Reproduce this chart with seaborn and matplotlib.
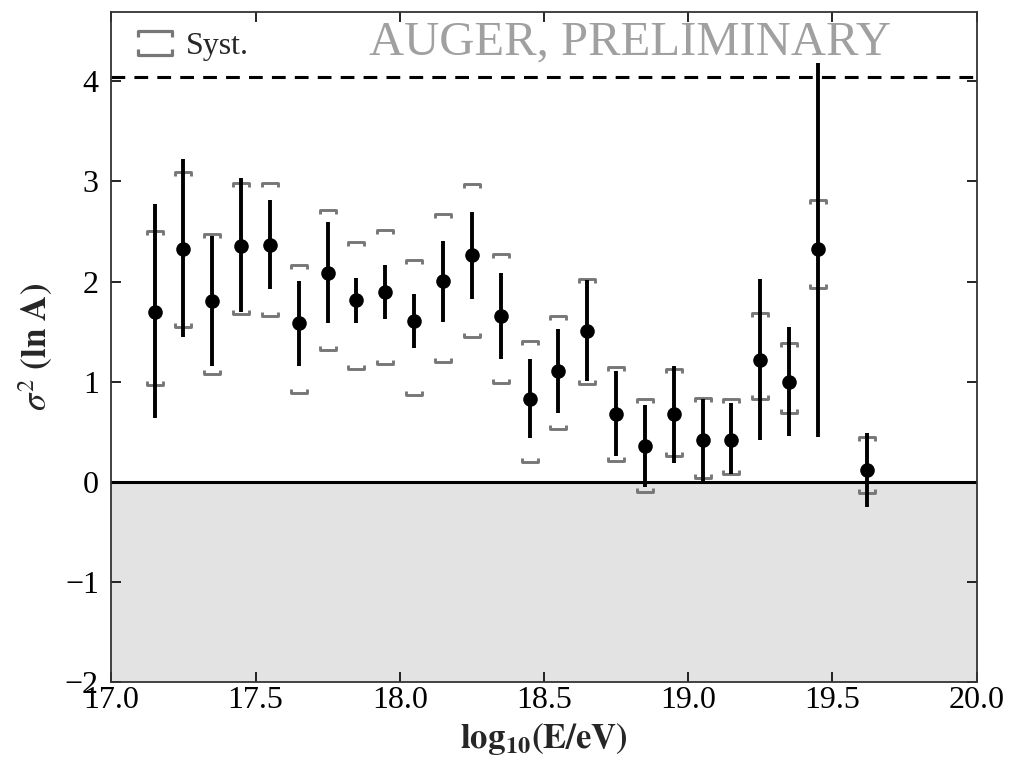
import numpy as np
import pandas as pd
import matplotlib
matplotlib.use("Agg")
import matplotlib.pyplot as plt
from matplotlib.path import Path
from matplotlib.lines import Line2D
import seaborn as sns

# ---- data ----
log_e = [17.15, 17.25, 17.35, 17.45, 17.55, 17.65, 17.75, 17.85, 17.95, 18.05,
         18.15, 18.25, 18.35, 18.45, 18.55, 18.65, 18.75, 18.85, 18.95, 19.05,
         19.15, 19.25, 19.35, 19.45, 19.62]
sigma2 = [1.70, 2.33, 1.81, 2.36, 2.37, 1.59, 2.09, 1.82, 1.90, 1.61,
          2.01, 2.27, 1.66, 0.83, 1.11, 1.51, 0.68, 0.36, 0.68, 0.42,
          0.42, 1.22, 1.00, 2.33, 0.12]
stat_hi = [2.78, 3.22, 2.46, 3.03, 2.82, 2.01, 2.60, 2.04, 2.17, 1.88,
           2.41, 2.70, 2.09, 1.23, 1.53, 2.02, 1.11, 0.77, 1.16, 0.83,
           0.79, 2.03, 1.55, 4.18, 0.49]
stat_lo = [0.64, 1.45, 1.16, 1.70, 1.93, 1.16, 1.59, 1.59, 1.63, 1.34,
           1.60, 1.83, 1.23, 0.44, 0.69, 1.01, 0.26, -0.05, 0.19, 0.00,
           0.08, 0.42, 0.46, 0.45, -0.25]
syst_hi = [2.51, 3.09, 2.48, 2.98, 2.98, 2.17, 2.72, 2.40, 2.52, 2.22,
           2.68, 2.97, 2.28, 1.41, 1.66, 2.03, 1.15, 0.83, 1.13, 0.84,
           0.83, 1.69, 1.39, 2.82, 0.45]
syst_lo = [0.97, 1.55, 1.08, 1.68, 1.66, 0.89, 1.32, 1.13, 1.18, 0.87,
           1.20, 1.45, 0.99, 0.20, 0.53, 0.98, 0.21, -0.10, 0.26, 0.04,
           0.08, 0.83, 0.69, 1.94, -0.11]
max_var = 4.04
x_ticks = [17.0, 17.5, 18.0, 18.5, 19.0, 19.5, 20.0]
y_ticks = [-2, -1, 0, 1, 2, 3, 4]

df = pd.DataFrame({"logE": log_e, "s2": sigma2, "shi": stat_hi, "slo": stat_lo,
                   "yhi": syst_hi, "ylo": syst_lo})

# ---- style ----
sns.set_theme(style="ticks")
plt.rcParams["font.family"] = ["Liberation Serif", "DejaVu Serif"]
plt.rcParams["mathtext.fontset"] = "stix"

fig = plt.figure(figsize=(10.12, 7.64), dpi=100)
ax = fig.add_axes([0.110, 0.107, 0.855, 0.877])

# shaded unphysical region
ax.axhspan(-2, 0, color="#e3e3e3", zorder=0, lw=0)
ax.axhline(0, color="black", lw=2.2, zorder=1)
ax.axhline(max_var, color="black", lw=2.2, ls=(0, (4.5, 3)), zorder=1)

# syst brackets
top_br = Path([(-1, -0.5), (-1, 0), (1, 0), (1, -0.5)])
bot_br = Path([(-1, 0.5), (-1, 0), (1, 0), (1, 0.5)])
syst_col = "#777777"
ax.plot(df["logE"], df["yhi"], ls="none", marker=top_br, ms=12, mew=2.1,
        mec=syst_col, mfc="none", zorder=2)
ax.plot(df["logE"], df["ylo"], ls="none", marker=bot_br, ms=12, mew=2.1,
        mec=syst_col, mfc="none", zorder=2)

# stat error bars
ax.vlines(df["logE"], df["slo"], df["shi"], color="black", lw=2.8, zorder=3)
sns.scatterplot(data=df, x="logE", y="s2", ax=ax, color="black", s=110,
                edgecolor="black", linewidth=0, zorder=4, legend=False)

ax.set_xlim(17.0, 20.0)
ax.set_ylim(-2, 4.69)
ax.set_xticks(x_ticks)
ax.set_xticklabels([f"{t:.1f}" for t in x_ticks])
ax.set_yticks(y_ticks)
ax.set_yticklabels([f"{t}" if t >= 0 else f"\u2212{abs(t)}" for t in y_ticks])
ax.tick_params(direction="in", length=7, width=1.2, top=True, right=True,
               labelsize=23, colors="black")
ax.tick_params(axis="x", pad=3)
ax.tick_params(axis="y", pad=9)
for s in ax.spines.values():
    s.set_linewidth(1.3)
    s.set_color("#333333")

ax.set_xlabel(r"$\mathbf{log_{10}(E/eV)}$", fontsize=25, labelpad=4)
ax.set_ylabel(r"$\sigma^2$ $\mathbf{(ln\ A)}$", fontsize=25, labelpad=8)

ax.text(0.60, 0.955, "AUGER, PRELIMINARY", transform=ax.transAxes,
        fontsize=35, color="#a0a0a0", ha="center", va="center")

# legend
leg_path = Path([(-1, 0.35), (-1, 0.7), (1, 0.7), (1, 0.35),
                 (-1, -0.35), (-1, -0.7), (1, -0.7), (1, -0.35)],
                [Path.MOVETO, Path.LINETO, Path.LINETO, Path.LINETO,
                 Path.MOVETO, Path.LINETO, Path.LINETO, Path.LINETO])
h = Line2D([], [], ls="none", marker=leg_path, ms=24, mew=2.3,
           mec=syst_col, mfc="none")
ax.legend([h], ["Syst."], loc="upper left", frameon=False, fontsize=23,
          handlelength=1.3, handletextpad=0.3, borderaxespad=0.0,
          bbox_to_anchor=(0.012, 0.99))

fig.savefig("out.png", dpi=100)
